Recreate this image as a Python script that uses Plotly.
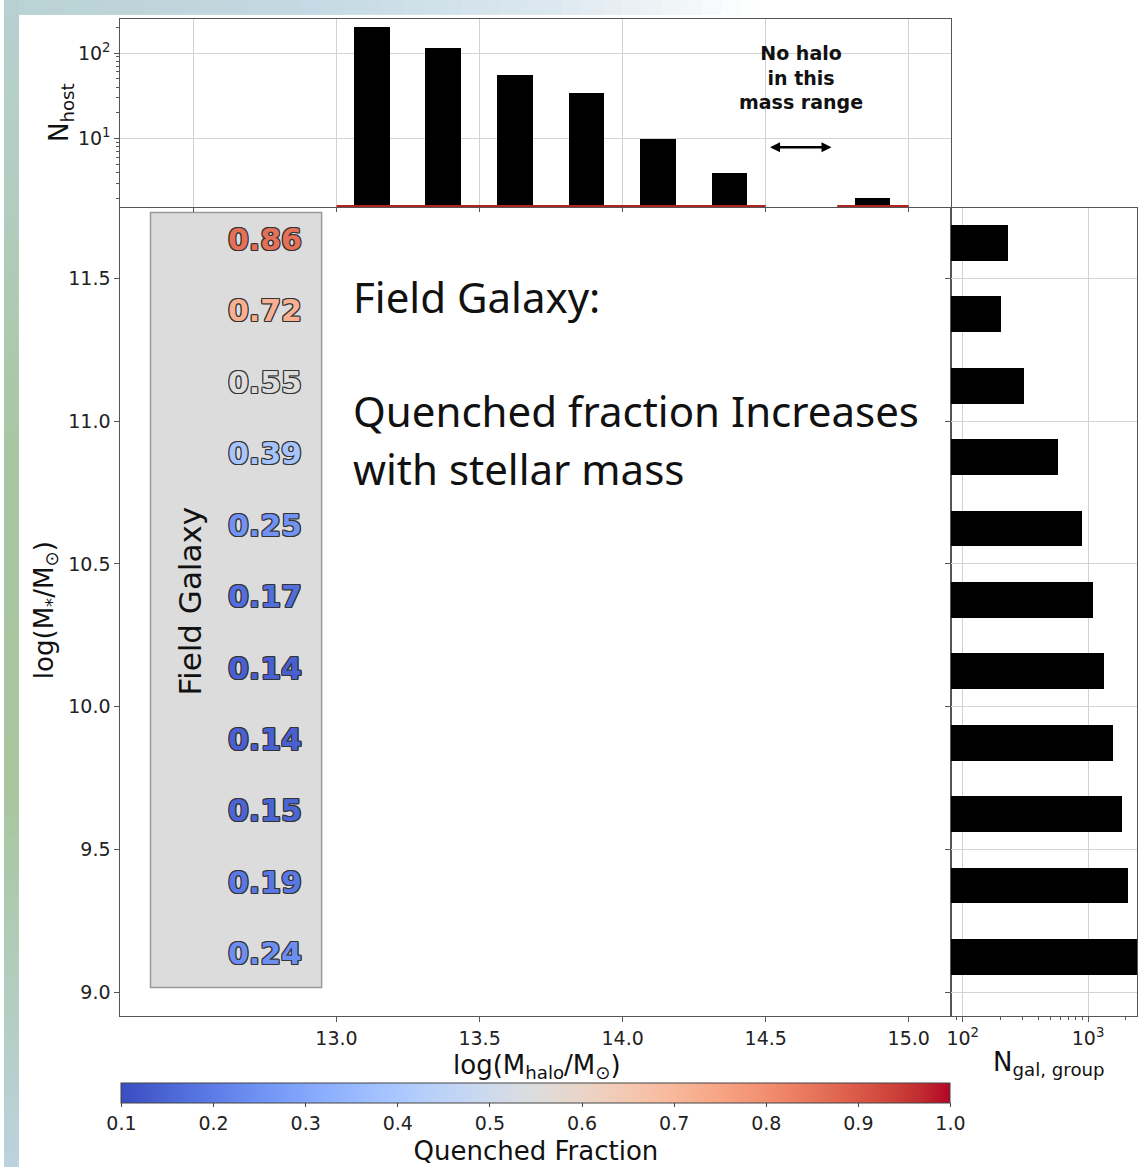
import plotly.graph_objects as go
import math

W, H = 1138, 1167

# ---------------- data ----------------
mstar_centers = [9.125, 9.375, 9.625, 9.875, 10.125, 10.375, 10.625, 10.875, 11.125, 11.375, 11.625]
qfrac_field = [0.24, 0.19, 0.15, 0.14, 0.14, 0.17, 0.25, 0.39, 0.55, 0.72, 0.86]
n_gal_group = [2500, 2075, 1860, 1580, 1340, 1095, 885, 575, 305, 202, 228]

mhalo_centers = [13.125, 13.375, 13.625, 13.875, 14.125, 14.375, 14.625, 14.875]
n_host = [202, 116, 55, 34, 10, 4, None, 2]

mhalo_ticks = [13.0, 13.5, 14.0, 14.5, 15.0]
mstar_ticks = [9.0, 9.5, 10.0, 10.5, 11.0, 11.5]
cbar_ticks = [0.1, 0.2, 0.3, 0.4, 0.5, 0.6, 0.7, 0.8, 0.9, 1.0]

CMIN, CMAX = 0.1, 1.0
FIELD_X = 12.75

# matplotlib coolwarm samples
CW = [(59,76,192),(68,90,204),(77,104,215),(87,117,225),(98,130,234),(108,142,241),
      (119,154,247),(130,165,251),(141,176,254),(152,185,255),(163,194,255),(174,201,253),
      (184,208,249),(194,213,244),(204,217,238),(213,219,230),(221,221,221),(229,216,209),
      (236,211,197),(241,204,184),(245,196,172),(247,187,159),(247,177,147),(247,166,134),
      (244,154,123),(241,141,111),(236,127,99),(229,112,88),(222,96,77),(213,80,66),
      (203,62,56),(192,40,47),(180,4,38)]
colorscale = [[i / (len(CW) - 1), "rgb(%d,%d,%d)" % c] for i, c in enumerate(CW)]


def cw_color(v):
    t = min(max((v - CMIN) / (CMAX - CMIN), 0), 1) * (len(CW) - 1)
    i = min(int(t), len(CW) - 2)
    f = t - i
    c = [round(CW[i][k] + (CW[i + 1][k] - CW[i][k]) * f) for k in range(3)]
    return "rgb(%d,%d,%d)" % tuple(c)


def px_x(p):
    return p / W


def px_y(p):
    return 1 - p / H


AX_FONT = "DejaVu Sans"
LINE_C = "#555555"
GRID_C = "#d2d2d2"
OUT = "#333"
outline = ", ".join("%dpx %dpx 0 %s" % (dx, dy, OUT) for dx, dy in
                    [(-1, -1), (1, -1), (-1, 1), (1, 1), (0, 1), (0, -1), (1, 0), (-1, 0)])

fig = go.Figure()

# top histogram
fig.add_trace(go.Bar(x=mhalo_centers, y=n_host, width=0.125, marker=dict(color="black", line=dict(width=0)),
                     xaxis="x2", yaxis="y2", showlegend=False, hoverinfo="skip"))

# right histogram
fig.add_trace(go.Bar(y=mstar_centers, x=n_gal_group, width=0.125, orientation="h",
                     marker=dict(color="black", line=dict(width=0)),
                     xaxis="x3", yaxis="y3", showlegend=False, hoverinfo="skip"))

# field galaxy quenched fractions (text)
fig.add_trace(go.Scatter(
    x=[FIELD_X] * len(qfrac_field), y=mstar_centers, mode="text",
    text=["%.2f" % v for v in qfrac_field],
    textposition="middle center",
    textfont=dict(family="DejaVu Sans", size=30, weight="bold",
                  color=[cw_color(v) for v in qfrac_field], shadow=outline),
    xaxis="x", yaxis="y", showlegend=False, hoverinfo="skip"))

# colorbar carrier
fig.add_trace(go.Scatter(
    x=[FIELD_X] * len(qfrac_field), y=mstar_centers, mode="markers",
    marker=dict(color=qfrac_field, colorscale=colorscale, cmin=CMIN, cmax=CMAX, opacity=0, size=1,
                showscale=True,
                colorbar=dict(orientation="h", x=px_x(118), xanchor="left", len=(951 - 118) / W,
                              lenmode="fraction", y=px_y(1090), yanchor="top", thickness=20,
                              xpad=0, ypad=0, outlinewidth=1, outlinecolor="#444",
                              tickvals=cbar_ticks, ticktext=["%.1f" % v for v in cbar_ticks],
                              ticks="outside", ticklen=4, tickcolor="#444",
                              tickfont=dict(family=AX_FONT, size=19, color="#222"),
                              title=dict(text="Quenched Fraction", side="bottom",
                                         font=dict(family=AX_FONT, size=26, color="#111")))),
    xaxis="x", yaxis="y", showlegend=False, hoverinfo="skip"))

shapes = []
# decorative background strips
def lerp_hex(stops, pos):
    for (p0, c0), (p1, c1) in zip(stops[:-1], stops[1:]):
        if p0 <= pos <= p1:
            f = (pos - p0) / (p1 - p0) if p1 > p0 else 0
            a = [int(c0[i:i + 2], 16) for i in (1, 3, 5)]
            b = [int(c1[i:i + 2], 16) for i in (1, 3, 5)]
            return "rgb(%d,%d,%d)" % tuple(round(a[k] + (b[k] - a[k]) * f) for k in range(3))
    return stops[-1][1]

top_stops = [(0, "#b9d2d2"), (300, "#c3d9e3"), (560, "#dde9f0"), (760, "#ffffff"), (1138, "#ffffff")]
for xs in range(0, 780, 20):
    shapes.append(dict(type="rect", xref="paper", yref="paper", x0=px_x(xs), x1=px_x(xs + 21),
                       y0=px_y(15), y1=1, fillcolor=lerp_hex(top_stops, xs + 10), line=dict(width=0), layer="below"))
left_stops = [(0, "#b8d0d2"), (200, "#b2cdbf"), (450, "#a8c6a2"), (800, "#a9c69f"), (1000, "#b2cdbf"), (1167, "#bcd2dc")]
for ys in range(0, 1167, 20):
    shapes.append(dict(type="rect", xref="paper", yref="paper", x0=0, x1=px_x(15),
                       y0=px_y(ys + 21), y1=px_y(ys), fillcolor=lerp_hex(left_stops, ys + 10),
                       line=dict(width=0), layer="below"))

# gray field box
shapes.append(dict(type="rect", xref="x", yref="y", x0=12.35, x1=12.948, y0=9.017, y1=11.73,
                   fillcolor="#dcdcdc", line=dict(color="#9a9a9a", width=1.5), layer="below"))
# red baseline in top histogram for populated bins
for x0, x1 in [(13.0, 14.5), (14.75, 15.0)]:
    shapes.append(dict(type="line", xref="x2", yref="y2 domain", x0=x0, x1=x1, y0=0.004, y1=0.004,
                       line=dict(color="#b22222", width=2)))

ann = []
def add_text(text, x, y, size, family=AX_FONT, angle=0, xanchor="center", yanchor="middle", color="#111", weight=None):
    f = dict(family=family, size=size, color=color)
    if weight:
        f["weight"] = weight
    ann.append(dict(text=text, x=px_x(x), y=px_y(y), xref="paper", yref="paper", showarrow=False,
                    textangle=angle, xanchor=xanchor, yanchor=yanchor, font=f))

add_text("N<sub>host</sub>", 57, 113, 26, angle=-90)
add_text("log(M<sub>*</sub>/M<sub>⊙</sub>)", 41, 614, 26, angle=-90)
add_text("log(M<sub>halo</sub>/M<sub>⊙</sub>)", 535, 1073, 26)
add_text("N<sub>gal, group</sub>", 1050, 1070, 26)
add_text("Field Galaxy", 187, 605, 31, angle=-90)
add_text("Field Galaxy:", 349, 298, 42, family="Noto Sans", xanchor="left")
add_text("Quenched fraction Increases", 349, 413, 42, family="Noto Sans", xanchor="left")
add_text("with stellar mass", 349, 471, 42, family="Noto Sans", xanchor="left")
add_text("No halo<br>in this<br>mass range", 801, 78, 19, weight="bold")

# double arrow in the empty halo-mass bin
arrow_y = math.log10(7.9)
ann.append(dict(x=14.73, y=arrow_y, ax=14.51, ay=arrow_y, xref="x2", yref="y2", axref="x2", ayref="y2",
                text="", showarrow=True, arrowhead=2, arrowside="end+start", arrowwidth=2.5,
                arrowsize=0.8, arrowcolor="black"))

tickfont = dict(family=AX_FONT, size=19, color="#222")
common = dict(showline=True, linecolor=LINE_C, linewidth=1.2, mirror=True, zeroline=False,
              tickcolor=LINE_C, tickfont=tickfont)

fig.update_layout(
    width=W, height=H, margin=dict(l=0, r=0, t=0, b=0),
    paper_bgcolor="white", plot_bgcolor="white",
    shapes=shapes, annotations=ann, bargap=0,
    xaxis=dict(domain=[px_x(117), px_x(951)], range=[12.245, 15.147], anchor="y",
               tickvals=mhalo_ticks, ticktext=["%.1f" % v for v in mhalo_ticks],
               ticks="outside", ticklen=5, showgrid=False, **common),
    yaxis=dict(domain=[px_y(1022), px_y(209)], range=[8.918, 11.747], anchor="x",
               tickvals=mstar_ticks, ticktext=["%.1f" % v for v in mstar_ticks],
               ticks="outside", ticklen=5, showgrid=False, **common),
    xaxis2=dict(domain=[px_x(117), px_x(951)], range=[12.245, 15.147], anchor="y2",
                tickvals=[12.5] + mhalo_ticks, showticklabels=False, ticks="outside", ticklen=4,
                showgrid=True, gridcolor=GRID_C, **common),
    yaxis2=dict(domain=[px_y(208), px_y(19)], type="log", range=[0.2, 2.4], anchor="x2",
                tickvals=[10, 100], ticktext=["10<sup>1</sup>", "10<sup>2</sup>"],
                ticks="outside", ticklen=5, showgrid=True, gridcolor=GRID_C,
                minor=dict(ticks="outside", ticklen=3, tickcolor=LINE_C,
                           tickvals=[2, 3, 4, 5, 6, 7, 8, 9, 20, 30, 40, 50, 60, 70, 80, 90, 200], showgrid=False),
                **common),
    xaxis3=dict(domain=[px_x(951), 1], type="log", range=[1.905, 3.39], anchor="y3",
                tickvals=[100, 1000], ticktext=["10<sup>2</sup>", "10<sup>3</sup>"],
                ticks="outside", ticklen=5, showgrid=True, gridcolor=GRID_C,
                minor=dict(ticks="outside", ticklen=3, tickcolor=LINE_C,
                           tickvals=[90, 200, 300, 400, 500, 600, 700, 800, 900, 2000], showgrid=False),
                **common),
    yaxis3=dict(domain=[px_y(1022), px_y(209)], range=[8.918, 11.747], anchor="x3",
                tickvals=mstar_ticks, showticklabels=False, ticks="outside", ticklen=5,
                showgrid=True, gridcolor=GRID_C, **common),
)

fig.write_html("out.html", config={"displayModeBar": False},
               post_script="document.body.style.margin='0';document.body.style.padding='0';document.body.style.overflow='hidden';")
